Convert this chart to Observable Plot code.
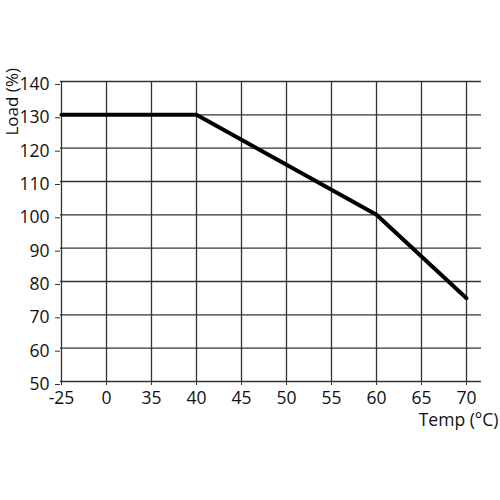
<!DOCTYPE html>
<html><head><meta charset="utf-8">
<script src="https://cdn.jsdelivr.net/npm/d3@7"></script>
<script src="https://cdn.jsdelivr.net/npm/@observablehq/plot@0.6"></script>
<style>body{margin:0;background:#fff}</style>
</head><body><div id="chart"></div>
<script>
const tempLabels = ["-25","0","35","40","45","50","55","60","65","70"];
const loadTicks = [50,60,70,80,90,100,110,120,130,140];
const curveTemp = ["-25","40","60","70"];
const curveLoad = [130,130,100,75];
const data = curveTemp.map((t,i)=>({temp:t, load:curveLoad[i]}));
const chart = Plot.plot({
  width:500, height:500, marginLeft:60, marginRight:19, marginTop:81, marginBottom:119,
  style:{fontFamily:"'Open Sans', sans-serif", fontSize:"17.5px", color:"#111", background:"#fff"},
  x:{type:"point", domain:tempLabels, range:[60,466], padding:0},
  y:{domain:[50,140]},
  marks:[
    Plot.ruleY(loadTicks, {stroke:"#333", strokeWidth:1.3}),
    Plot.ruleX(tempLabels, {y1:50, y2:140, stroke:"#333", strokeWidth:1.3}),
    Plot.axisY(loadTicks, {tickSize:5, tickPadding:6, label:null, stroke:"#333", dy:3}),
    Plot.axisX(tempLabels, {tickSize:4, tickPadding:6, label:null, stroke:"#333"}),
    Plot.line(data, {x:"temp", y:"load", stroke:"#000", strokeWidth:4}),
    Plot.text(["Load (%)"], {frameAnchor:"top-left", rotate:-90, textAnchor:"start", dx:-55, dy:54, fontSize:17}),
    Plot.text(["Temp (°C)"], {frameAnchor:"bottom-right", textAnchor:"end", dx:17, dy:44})
  ]
});
document.getElementById("chart").append(chart);
</script>
</body></html>
